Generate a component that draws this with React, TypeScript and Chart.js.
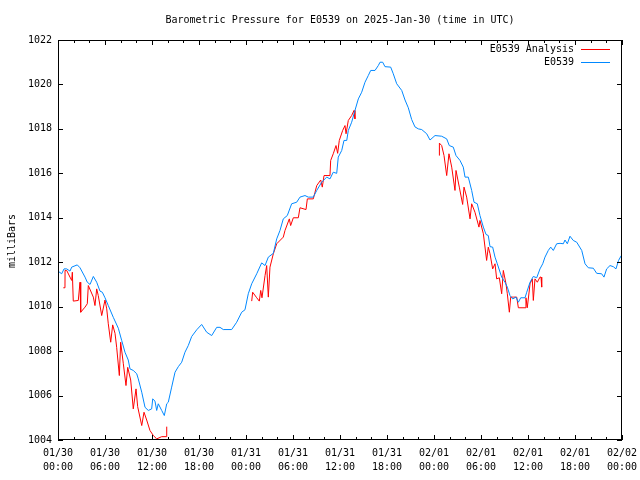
import { useEffect, useRef } from 'react';
import { Chart, registerables } from 'chart.js';

Chart.register(...registerables);

const TITLE = 'Barometric Pressure for E0539 on 2025-Jan-30 (time in UTC)';
const Y_TITLE = 'milliBars';
const SERIES_ANALYSIS = 'E0539 Analysis';
const SERIES_OBS = 'E0539';

const xTickHours = [0, 6, 12, 18, 24, 30, 36, 42, 48, 54, 60, 66, 72];
const xTickDates = ['01/30', '01/30', '01/30', '01/30', '01/31', '01/31', '01/31', '01/31', '02/01', '02/01', '02/01', '02/01', '02/02'];
const xTickTimes = ['00:00', '06:00', '12:00', '18:00', '00:00', '06:00', '12:00', '18:00', '00:00', '06:00', '12:00', '18:00', '00:00'];
const yTicks = [1004, 1006, 1008, 1010, 1012, 1014, 1016, 1018, 1020, 1022];

// Observations (hours since 01/30 00:00 UTC)
const obsHours = [
  0, 0.47, 0.77, 1.11, 1.53, 1.75, 2.46, 2.81, 3.45, 3.74, 4.09, 4.51, 4.94, 5.36, 5.66, 6.0, 6.42, 7.06, 7.7, 8.13,
  8.55, 8.97, 9.19, 9.61, 10.05, 10.25, 10.69, 11.11, 11.53, 11.96, 12.09, 12.38, 12.6, 12.8, 13.24, 13.57, 13.88, 14.08, 14.51, 14.94,
  15.36, 15.79, 16.21, 16.63, 17.07, 17.71, 18.34, 18.98, 19.62, 20.26, 20.68, 21.1, 22.17, 22.81, 23.45, 23.87, 24.29, 24.73, 25.37, 26.0,
  26.43, 26.85, 27.49, 27.92, 28.34, 28.76, 29.27, 29.83, 30.47, 30.89, 31.53, 31.95, 32.59, 33.03, 33.66, 34.3, 34.72, 35.14, 35.58, 35.78,
  36.22, 36.51, 36.86, 37.06, 37.49, 37.91, 38.34, 38.77, 39.19, 39.61, 39.92, 40.47, 40.89, 41.11, 41.45, 41.74, 42.47, 42.8, 43.24, 43.88,
  44.3, 44.72, 45.15, 45.57, 46.0, 46.43, 47.07, 47.49, 48.13, 48.98, 49.62, 49.95, 50.46, 50.81, 51.32, 51.74, 51.96, 52.38, 52.81, 53.11,
  53.53, 53.87, 54.3, 54.64, 54.93, 55.15, 55.49, 55.79, 56.08, 56.64, 57.06, 57.36, 57.7, 58.05, 58.47, 58.77, 59.07, 59.62, 59.84, 60.26,
  60.68, 61.11, 61.53, 61.88, 62.17, 62.59, 62.9, 63.23, 63.66, 64.09, 64.51, 64.72, 65.02, 65.36, 65.78, 66.22, 66.86, 67.28, 67.7, 68.34,
  68.77, 69.4, 69.7, 70.04, 70.47, 70.89, 71.23, 71.56, 71.91,
];
const obsValues = [
  1011.6, 1011.48, 1011.7, 1011.7, 1011.6, 1011.78, 1011.88, 1011.75, 1011.33, 1011.1, 1011.0, 1011.36, 1011.1, 1010.7, 1010.65, 1010.4, 1010.05, 1009.52, 1009.03, 1008.48,
  1007.95, 1007.6, 1007.2, 1007.13, 1006.98, 1006.75, 1006.15, 1005.47, 1005.33, 1005.4, 1005.85, 1005.75, 1005.33, 1005.63, 1005.33, 1005.1, 1005.63, 1005.7, 1006.38, 1007.05,
  1007.3, 1007.5, 1007.95, 1008.25, 1008.66, 1008.96, 1009.2, 1008.85, 1008.7, 1009.07, 1009.07, 1008.97, 1008.97, 1009.3, 1009.75, 1009.86, 1010.58, 1011.03, 1011.48, 1011.97,
  1011.85, 1012.23, 1012.4, 1013.05, 1013.43, 1013.95, 1014.1, 1014.63, 1014.7, 1014.93, 1015.0, 1014.93, 1014.93, 1015.23, 1015.6, 1015.83, 1015.75, 1016.05, 1016.0, 1016.73,
  1017.03, 1017.48, 1017.48, 1017.93, 1018.3, 1018.83, 1019.35, 1019.65, 1020.1, 1020.4, 1020.63, 1020.63, 1020.85, 1021.0, 1021.0, 1020.8, 1020.78, 1020.48, 1020.03, 1019.73,
  1019.3, 1018.95, 1018.42, 1018.09, 1018.0, 1017.97, 1017.78, 1017.5, 1017.7, 1017.67, 1017.55, 1017.25, 1017.18, 1016.8, 1016.58, 1016.28, 1015.83, 1015.83, 1015.23, 1014.7,
  1014.63, 1014.1, 1013.58, 1013.25, 1013.2, 1012.7, 1012.68, 1012.23, 1011.93, 1011.33, 1011.1, 1010.88, 1010.5, 1010.35, 1010.43, 1010.2, 1010.4, 1010.4, 1010.65, 1011.1,
  1011.36, 1011.3, 1011.7, 1011.93, 1012.23, 1012.53, 1012.68, 1012.53, 1012.83, 1012.85, 1012.83, 1013.0, 1012.83, 1013.17, 1012.98, 1012.9, 1012.53, 1011.93, 1011.75, 1011.73,
  1011.5, 1011.48, 1011.33, 1011.7, 1011.85, 1011.8, 1011.7, 1012.08, 1012.3,
];

// Analysis (null marks a gap between runs)
const anaHours = [
  0.68, 0.89, 0.9, 1.11, 1.53, 1.75, 1.83, 1.95, 2.59, 2.81, 2.9, 3.45, 3.74, 3.87, 4.51, 4.72, 4.94, 5.14, 5.58, 6.0,
  6.22, 6.42, 6.73, 6.98, 7.28, 7.49, 7.83, 8.0, 8.34, 8.68, 8.9, 9.28, 9.61, 9.96, 10.17, 10.69, 10.98, 11.32, 11.74, 12.17,
  12.6, 13.24, 13.85, 13.88,
  20,
  24.73, 24.85, 25.37, 25.7, 25.88, 26.04, 26.43, 26.64, 26.85, 27.06, 27.49, 27.92, 28.76, 28.98, 29.53, 29.7, 30.04, 30.68, 30.89, 31.66,
  31.83, 32.59, 32.81, 33.03, 33.54, 33.74, 33.96, 34.72, 34.81, 35.14, 35.49, 35.7, 35.91, 36.34, 36.64, 36.77, 37.06, 37.49, 37.79, 37.91,
  44,
  48.68, 48.69, 48.98, 49.28, 49.62, 49.91, 50.26, 50.68, 50.81, 51.23, 51.66, 51.83, 52.17, 52.6, 52.81, 53.23, 53.74, 53.87, 54.3, 54.72,
  54.93, 55.15, 55.49, 55.79, 56.0, 56.34, 56.64, 56.85, 57.19, 57.36, 57.62, 57.79, 58.13, 58.56, 58.77, 59.62, 59.74, 59.91, 60.26, 60.55,
  60.68, 60.89, 61.19, 61.53, 61.66, 61.75,
];
const anaValues = [
  1010.85, 1010.85, 1011.63, 1011.63, 1011.33, 1011.18, 1011.55, 1010.25, 1010.28, 1011.1, 1009.75, 1009.98, 1010.13, 1010.95, 1010.43, 1010.05, 1010.8, 1010.5, 1009.6, 1010.3,
  1009.9, 1009.23, 1008.4, 1009.18, 1008.8, 1008.17, 1006.9, 1008.4, 1007.43, 1006.45, 1007.27, 1006.7, 1005.4, 1006.3, 1005.5, 1004.65, 1005.25, 1004.9, 1004.43, 1004.2,
  1004.05, 1004.15, 1004.15, 1004.6,
  null,
  1010.25, 1010.65, 1010.4, 1010.25, 1010.73, 1010.4, 1011.4, 1011.85, 1010.43, 1011.78, 1012.38, 1012.83, 1013.13, 1013.43, 1013.95, 1013.65, 1014.0, 1014.0, 1014.45, 1014.37,
  1014.85, 1014.85, 1015.15, 1015.45, 1015.7, 1015.38, 1015.9, 1015.9, 1016.58, 1016.88, 1017.25, 1016.9, 1017.48, 1017.93, 1018.15, 1017.78, 1018.38, 1018.6, 1018.83, 1018.45,
  null,
  1016.8, 1017.36, 1017.25, 1016.8, 1015.9, 1016.88, 1016.28, 1015.23, 1016.13, 1015.38, 1014.6, 1015.38, 1014.93, 1013.95, 1014.63, 1014.25, 1013.58, 1013.88, 1013.28, 1012.08,
  1012.68, 1012.38, 1011.7, 1011.93, 1011.25, 1011.3, 1010.58, 1011.63, 1011.03, 1010.58, 1009.75, 1010.43, 1010.43, 1010.43, 1009.95, 1009.95, 1010.4, 1009.95, 1011.03, 1011.25,
  1010.28, 1011.25, 1011.1, 1011.33, 1011.33, 1010.88,
];

const RED = '#ff0000';
const BLUE = '#0088ff';
const FONT = '"DejaVu Sans Mono", monospace';

const framePlugin = {
  id: 'frame',
  afterDraw(chart: any) {
    const ctx = chart.ctx;
    const a = chart.chartArea;
    const xs = chart.scales.x;
    const ys = chart.scales.y;
    ctx.save();
    ctx.strokeStyle = '#000';
    ctx.lineWidth = 1;
    ctx.beginPath();
    // x ticks: minor every 2h, major every 6h
    for (let h = 0; h <= 72; h += 2) {
      const px = Math.round(xs.getPixelForValue(h)) + 0.5;
      const len = h % 6 === 0 ? 5 : 3;
      ctx.moveTo(px, a.bottom);
      ctx.lineTo(px, a.bottom - len);
      ctx.moveTo(px, a.top);
      ctx.lineTo(px, a.top + len);
    }
    for (const v of yTicks) {
      const py = Math.round(ys.getPixelForValue(v)) + 0.5;
      ctx.moveTo(a.left, py);
      ctx.lineTo(a.left + 5, py);
      ctx.moveTo(a.right, py);
      ctx.lineTo(a.right - 5, py);
    }
    ctx.stroke();
    ctx.strokeRect(Math.round(a.left) + 0.5, Math.round(a.top) + 0.5, Math.round(a.right - a.left) - 1, Math.round(a.bottom - a.top) - 1);

    ctx.fillStyle = '#000';
    ctx.font = `10px ${FONT}`;
    ctx.textBaseline = 'middle';
    ctx.textAlign = 'center';
    ctx.fillText(TITLE, (a.left + a.right) / 2, 20);

    ctx.save();
    ctx.translate(12, 241);
    ctx.rotate(-Math.PI / 2);
    ctx.fillText(Y_TITLE, 0, 0);
    ctx.restore();

    // legend
    ctx.textAlign = 'right';
    ctx.fillText(SERIES_ANALYSIS, 574, 49.5);
    ctx.fillText(SERIES_OBS, 574, 62.5);
    ctx.lineWidth = 1;
    ctx.strokeStyle = RED;
    ctx.beginPath();
    ctx.moveTo(581, 49.5);
    ctx.lineTo(610, 49.5);
    ctx.stroke();
    ctx.strokeStyle = BLUE;
    ctx.beginPath();
    ctx.moveTo(581, 62.5);
    ctx.lineTo(610, 62.5);
    ctx.stroke();
    ctx.restore();
  },
};

export default function App() {
  const ref = useRef<HTMLCanvasElement | null>(null);
  useEffect(() => {
    if (!ref.current) return;
    const obs = obsHours.map((h, i) => ({ x: h, y: obsValues[i] }));
    const ana = anaHours.map((h, i) => ({ x: h, y: anaValues[i] }));
    const chart = new Chart(ref.current, {
      type: 'line',
      data: {
        datasets: [
          { label: SERIES_OBS, data: obs as any, borderColor: BLUE, borderWidth: 1, pointRadius: 0, tension: 0, spanGaps: false },
          { label: SERIES_ANALYSIS, data: ana as any, borderColor: RED, borderWidth: 1, pointRadius: 0, tension: 0, spanGaps: false },
        ],
      },
      options: {
        responsive: false,
        animation: false,
        events: [],
        layout: { padding: { top: 40, right: 18, left: 0, bottom: 0 } },
        plugins: { legend: { display: false }, title: { display: false }, tooltip: { enabled: false } },
        scales: {
          x: {
            type: 'linear',
            min: 0,
            max: 72,
            grid: { display: false, drawTicks: false },
            border: { display: false },
            afterBuildTicks: (s: any) => {
              s.ticks = xTickHours.map((v) => ({ value: v }));
            },
            afterFit: (s: any) => {
              s.height = 40;
              s.paddingLeft = 0;
              s.paddingRight = 0;
            },
            ticks: {
              autoSkip: false,
              maxRotation: 0,
              minRotation: 0,
              padding: 6,
              color: '#000',
              font: { family: FONT, size: 10, lineHeight: 1.4 },
              callback: (v: any) => {
                const i = xTickHours.indexOf(Number(v));
                return i >= 0 ? [xTickDates[i], xTickTimes[i]] : '';
              },
            },
          },
          y: {
            type: 'linear',
            min: 1004,
            max: 1022,
            grid: { display: false, drawTicks: false },
            border: { display: false },
            afterBuildTicks: (s: any) => {
              s.ticks = yTicks.map((v) => ({ value: v }));
            },
            afterFit: (s: any) => {
              s.width = 58;
            },
            ticks: {
              autoSkip: false,
              padding: 6,
              color: '#000',
              font: { family: FONT, size: 10 },
              callback: (v: any) => String(v),
            },
          },
        },
      },
      plugins: [framePlugin],
    });
    return () => chart.destroy();
  }, []);
  return (
    <div style={{ position: 'absolute', left: 0, top: 0, width: 640, height: 480, background: '#fff' }}>
      <canvas ref={ref} width={640} height={480} style={{ display: 'block' }} />
    </div>
  );
}
